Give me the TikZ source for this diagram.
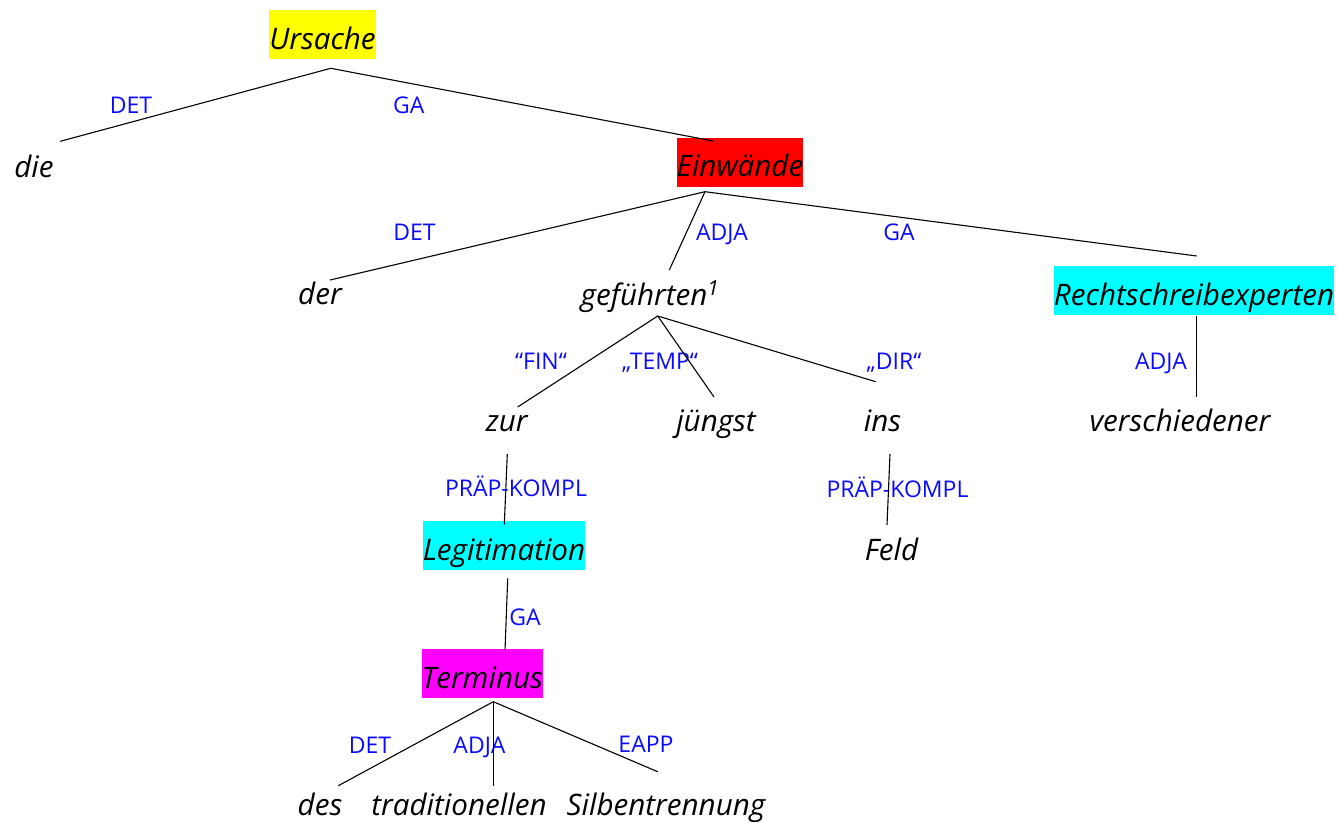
\documentclass[tikz,border=0pt]{standalone}
\usepackage{fontspec}
\setmainfont{Open Sans}
\begin{document}
\begin{tikzpicture}[x=1pt,y=-1pt,
  w/.style={font=\fontsize{29.6}{32}\selectfont\itshape, anchor=base, inner xsep=0pt, inner ysep=0pt, text height=39pt, text depth=10pt},
  lab/.style={font=\fontsize{23}{26}\selectfont, text=labblue, anchor=base, inner sep=0pt},
  edge/.style={draw=black, line width=1.1pt}]
\definecolor{labblue}{RGB}{10,10,255}
\useasboundingbox (0,0) rectangle (1337,822);
% words
\node[w, fill={rgb,255:red,255;green,255;blue,0}] (u) at (322.5,49) {Ursache};
\node[w] (die) at (34,177) {die};
\node[w, fill={rgb,255:red,255;green,0;blue,0}] (ein) at (740,176.7) {Einwände};
\node[w] (der) at (320,304.5) {der};
\node[w] (gef) at (650,305) {geführten\textsuperscript{1}};
\node[w, fill={rgb,255:red,0;green,255;blue,255}] (rech) at (1194,305) {Rechtschreibexperten};
\node[w] (zur) at (506.7,431.7) {zur};
\node[w] (jun) at (716,431.7) {jüngst};
\node[w] (ins) at (882.5,431.7) {ins};
\node[w] (ver) at (1180,431.7) {verschiedener};
\node[w, fill={rgb,255:red,0;green,255;blue,255}] (leg) at (504,560) {Legitimation};
\node[w] (feld) at (891.5,560.7) {Feld};
\node[w, fill={rgb,255:red,255;green,0;blue,255}] (ter) at (482.2,688.3) {Terminus};
\node[w] (des) at (320,815) {des};
\node[w] (tra) at (459,815) {traditionellen};
\node[w] (sil) at (666,815) {Silbentrennung};
% labels
\node[lab] (l1) at (131,113.3) {DET};
\node[lab] (l2) at (408.7,113.3) {GA};
\node[lab] (l3) at (414.5,240.7) {DET};
\node[lab] (l4) at (722,240.7) {ADJA};
\node[lab] (l5) at (899,240.7) {GA};
\node[lab] (l6) at (541,369) {“FIN“};
\node[lab] (l7) at (660,369) {„TEMP“};
\node[lab] (l8) at (894,369) {„DIR“};
\node[lab] (l9) at (1161,369) {ADJA};
\node[lab] (l10) at (516,496) {PRÄP-KOMPL};
\node[lab] (l11) at (897.5,497.3) {PRÄP-KOMPL};
\node[lab] (l12) at (525,625) {GA};
\node[lab] (l13) at (370,753.3) {DET};
\node[lab] (l14) at (479.5,753.3) {ADJA};
\node[lab] (l15) at (646,752.7) {EAPP};
% connectors
\draw[edge] ([shift={(26.3,-35.7)}]die.base) -- ([shift={(8.2,19.3)}]u.base) -- ([shift={(-26.7,-35.7)}]ein.base);
\draw[edge] ([shift={(10,-24.5)}]der.base) -- ([shift={(-35,15)}]ein.base) -- ([shift={(2.7,-49)}]rech.base);
\draw[edge] ([shift={(-35,15)}]ein.base) -- ([shift={(19.3,-35)}]gef.base);
\draw[edge] ([shift={(11,-24.7)}]zur.base) -- ([shift={(7.7,11)}]gef.base) -- ([shift={(-6.8,-50)}]ins.base);
\draw[edge] ([shift={(7.7,11)}]gef.base) -- ([shift={(-2,-34.7)}]jun.base);
\draw[edge] ([shift={(2.7,11)}]rech.base) -- ([shift={(16.7,-34.4)}]ver.base);
\draw[edge] ([shift={(0.6,22.3)}]zur.base) -- ([shift={(0.3,-35.7)}]leg.base);
\draw[edge] ([shift={(3.7,18.3)}]leg.base) -- ([shift={(22.8,-37.6)}]ter.base);
\draw[edge] ([shift={(18.3,-29.3)}]des.base) -- ([shift={(11.1,13.4)}]ter.base) -- ([shift={(-8.3,-43.3)}]sil.base);
\draw[edge] ([shift={(11.1,13.4)}]ter.base) -- ([shift={(34.3,-29.3)}]tra.base);
\draw[edge] ([shift={(7.5,22.3)}]ins.base) -- ([shift={(-4.5,-35.7)}]feld.base);
\end{tikzpicture}
\end{document}
